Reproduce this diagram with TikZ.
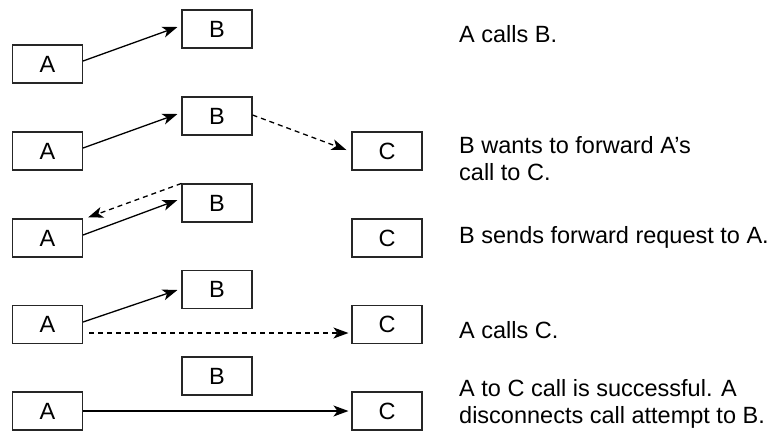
\documentclass[tikz,border=0pt]{standalone}
\usepackage{fontspec}
\setmainfont{Liberation Sans}
\usetikzlibrary{arrows.meta}
\begin{document}
\begin{tikzpicture}[x=1pt,y=-1pt,
  box/.style={draw=black!85, line width=1.1pt, minimum width=70pt, minimum height=38pt, inner sep=0pt, font=\fontsize{23.5}{26}\selectfont},
  lbl/.style={anchor=base west, inner sep=0pt, align=left, font=\fontsize{23.5}{26.5}\selectfont},
  conn/.style={line width=1.3pt, -{Stealth[length=15pt,width=11pt,inset=4pt]}},
  dashconn/.style={conn, dash pattern=on 5pt off 4pt}]
\useasboundingbox (0,0) rectangle (774,432);
% row 1
\node[box] (a1) at (47.5,64) {A};
\node[box] (b1) at (217,29) {B};
\node[lbl] (t1) at (459,42) {A calls B.};
\draw[conn] ([yshift=3pt]a1.east) -- ([xshift=-4pt,yshift=2pt]b1.west);
% row 2
\node[box] (a2) at (47.5,151) {A};
\node[box] (b2) at (217,116) {B};
\node[box] (c2) at (387,151) {C};
\node[lbl] (t2) at (459,180) {B wants to forward A’s\\call to C.};
\draw[conn] ([yshift=3pt]a2.east) -- ([xshift=-4pt,yshift=2pt]b2.west);
\draw[dashconn] ([yshift=1pt]b2.east) -- ([xshift=-5pt,yshift=1pt]c2.west);
% row 3
\node[box] (a3) at (47.5,238) {A};
\node[box] (b3) at (217,203) {B};
\node[box] (c3) at (387,238) {C};
\node[lbl] (t3) at (459,243) {B sends forward request to A.};
\draw[conn] ([yshift=3pt]a3.east) -- ([xshift=-4pt,yshift=3pt]b3.west);
\draw[dashconn] (b3.north west) -- ([xshift=5pt,yshift=1pt]a3.north east);
% row 4
\node[box] (a4) at (47.5,324.5) {A};
\node[box] (b4) at (217,289.5) {B};
\node[box] (c4) at (387,324.5) {C};
\node[lbl] (t4) at (459,338) {A calls C.};
\draw[conn] ([yshift=2.5pt]a4.east) -- ([xshift=-4pt,yshift=-0.5pt]b4.west);
\draw[dashconn] ([xshift=6pt,yshift=-8.5pt]a4.east) -- ([xshift=-3pt,yshift=-8.5pt]c4.west);
% row 5
\node[box] (a5) at (47.5,411) {A};
\node[box] (b5) at (217,376) {B};
\node[box] (c5) at (387,411) {C};
\node[lbl] (t5) at (459,423) {A to C call is successful. A\\disconnects call attempt to B.};
\draw[conn] (a5.east) -- ([xshift=-3pt]c5.west);
\end{tikzpicture}
\end{document}
